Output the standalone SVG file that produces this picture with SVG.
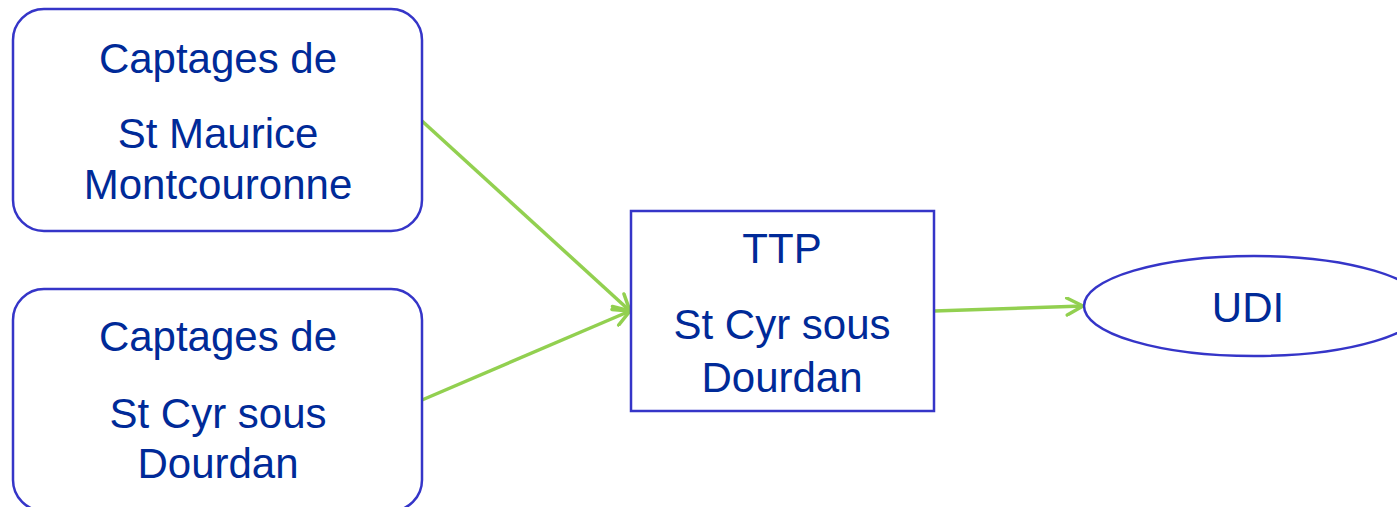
<svg xmlns="http://www.w3.org/2000/svg" width="1397" height="507" viewBox="0 0 1397 507">
<style>
.box{fill:#ffffff;stroke:#3535c8;stroke-width:2.5}
.lbl{font-family:"Liberation Sans",Arial,sans-serif;font-size:42px;fill:#002a98;text-anchor:middle}
.conn{stroke:#92d050;stroke-width:3.5;fill:none;marker-end:url(#arr)}
</style>
<defs>
<marker id="arr" viewBox="0 0 20 20" refX="19" refY="10" markerWidth="20" markerHeight="20" markerUnits="userSpaceOnUse" orient="auto">
<path d="M3,1.5 L19,10 L3,18.5" fill="none" stroke="#92d050" stroke-width="3.5" stroke-linecap="round" stroke-linejoin="round"/>
</marker>
</defs>
<rect width="1397" height="507" fill="#ffffff"/>
<g id="connectors">
<line class="conn" x1="422" y1="121" x2="630" y2="311"/>
<line class="conn" x1="422" y1="400" x2="630" y2="311"/>
<line class="conn" x1="934" y1="311" x2="1083" y2="306"/>
</g>
<g id="captages-st-maurice">
<rect class="box" x="13" y="9" width="409" height="222" rx="31" ry="31"/>
<text class="lbl" x="218" y="73">Captages de</text>
<text class="lbl" x="218" y="148">St Maurice</text>
<text class="lbl" x="218" y="199">Montcouronne</text>
</g>
<g id="captages-st-cyr">
<rect class="box" x="13" y="289" width="409" height="222" rx="31" ry="31"/>
<text class="lbl" x="218" y="351">Captages de</text>
<text class="lbl" x="218" y="428">St Cyr sous</text>
<text class="lbl" x="218" y="478">Dourdan</text>
</g>
<g id="ttp">
<rect class="box" x="631" y="211" width="303" height="200"/>
<text class="lbl" x="782" y="263">TTP</text>
<text class="lbl" x="782" y="339">St Cyr sous</text>
<text class="lbl" x="782" y="392">Dourdan</text>
</g>
<g id="udi">
<ellipse class="box" cx="1254" cy="306" rx="170" ry="50"/>
<text class="lbl" x="1248" y="322">UDI</text>
</g>
</svg>
